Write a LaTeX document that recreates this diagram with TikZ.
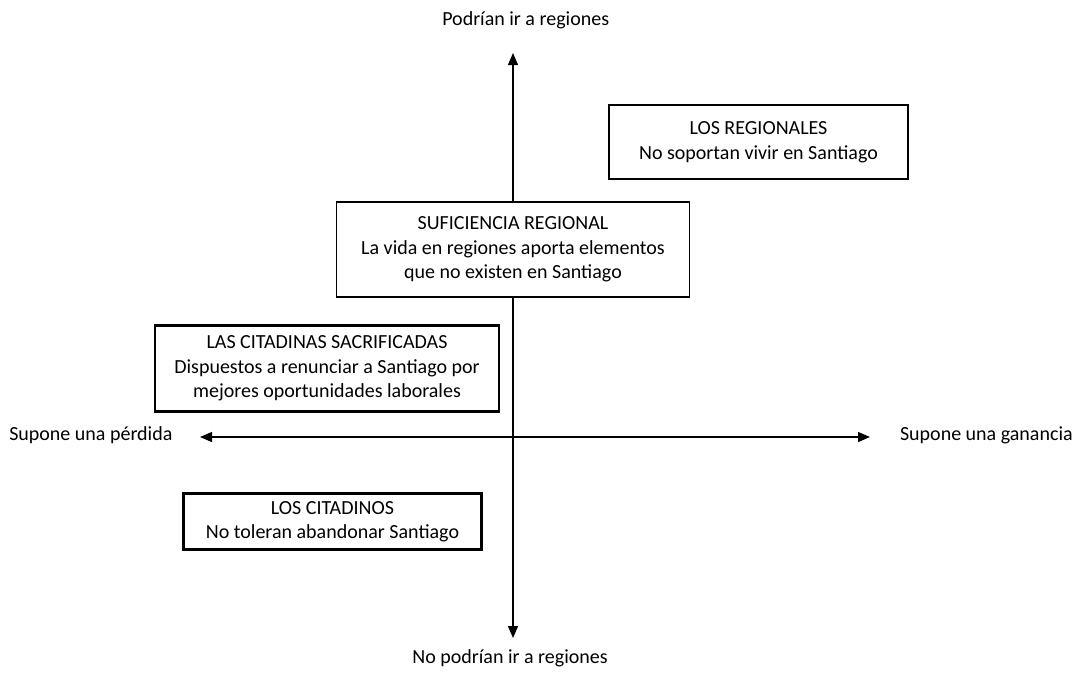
\documentclass[tikz,border=0pt]{standalone}
\usepackage{fontspec}
\setmainfont{Carlito}
\usetikzlibrary{arrows.meta}
\begin{document}
\begin{tikzpicture}[x=0.75pt,y=-0.75pt,
  lbl/.style={font=\fontsize{15}{18}\selectfont, inner sep=0pt},
  box/.style={draw, fill=white, line width=1.2pt, align=center, font=\fontsize{15}{18.4}\selectfont, inner sep=0pt},
  thickbox/.style={box, line width=2.2pt},
  axis/.style={line width=1pt, -{Triangle[length=9pt,width=7.5pt]}}]
\useasboundingbox (0,0) rectangle (1075,672);
\coordinate (c) at (513,437);
\coordinate (top) at (513,53);
\coordinate (bot) at (513,638);
\coordinate (lft) at (200,437);
\coordinate (rgt) at (870,437);
\draw[axis] (c) -- (top);
\draw[axis] (c) -- (bot);
\draw[axis] (c) -- (lft);
\draw[axis] (c) -- (rgt);
\node[lbl, anchor=west] (tl) at (442,20) {Podrían ir a regiones};
\node[lbl, anchor=east] (bl) at (608,658) {No podrían ir a regiones};
\node[lbl, anchor=west] (ll) at (9,435) {Supone una pérdida};
\node[lbl, anchor=east] (rl) at (1073,435) {Supone una ganancia};
\node[box, minimum width=224pt, minimum height=55.5pt] (reg) at (758.5,142) {LOS REGIONALES\\No soportan vivir en Santiago};
\node[box, minimum width=265pt, minimum height=71pt] (suf) at (513,249.5) {SUFICIENCIA REGIONAL\\La vida en regiones aporta elementos\\que no existen en Santiago};
\node[thickbox, minimum width=258pt, minimum height=64pt] (sac) at (327,368.5) {LAS CITADINAS SACRIFICADAS\\Dispuestos a renunciar a Santiago por\\mejores oportunidades laborales};
\node[thickbox, minimum width=224pt, minimum height=42pt] (cit) at (332.5,521.5) {LOS CITADINOS\\No toleran abandonar Santiago};
\end{tikzpicture}
\end{document}
